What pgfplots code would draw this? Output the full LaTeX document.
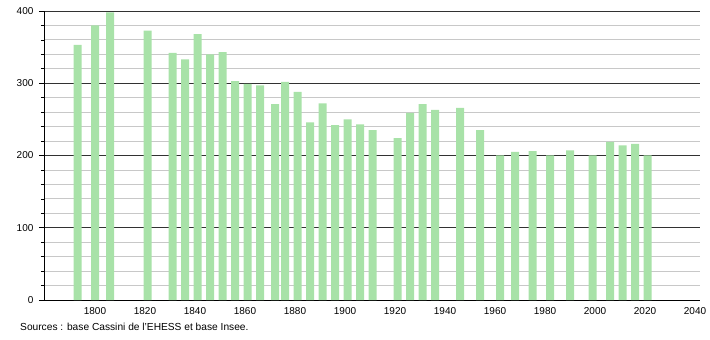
\documentclass[border=0pt]{standalone}
\usepackage{fontspec}
\setmainfont{Liberation Sans}
\usepackage{pgfplots}
\pgfplotsset{compat=1.18}
\definecolor{barg}{RGB}{168,226,168}
\definecolor{majg}{RGB}{50,50,50}
\definecolor{ming}{RGB}{200,200,200}
\begin{document}
\fontsize{10.2bp}{12bp}\selectfont
\begin{tikzpicture}
\useasboundingbox (-44bp,-40bp) rectangle (666bp,300bp);
\begin{axis}[
  at={(0,0)}, anchor=south west,
  scale only axis, width=656bp, height=289bp,
  xmin=1779.6, xmax=2042, ymin=0, ymax=400,
  axis lines=left, axis line style={-, black, line width=0.8pt},
  xtick={1800,1820,...,2040},
  ytick={0,100,...,400},
  minor ytick={20,40,60,80,120,140,160,180,220,240,260,280,320,340,360,380},
  major x tick style={draw=none},
  ytick align=outside,
  major tick length=5bp, minor tick length=3bp,
  tick style={black, line width=0.6pt},
  ymajorgrids, yminorgrids,
  major grid style={majg, line width=0.8pt},
  minor grid style={ming, line width=0.8pt},
  /pgf/number format/1000 sep={},
  /pgf/number format/assume math mode=true,
  tick label style={font=\fontsize{10bp}{12bp}\selectfont},
  xticklabel style={yshift=1bp},
  yticklabel style={xshift=-2bp},
  ybar, bar width=8bp,
  clip=false,
]
\addplot[fill=barg, draw=none] coordinates {
(1793,353) (1800,380) (1806,398) (1821,373) (1831,342) (1836,333)
(1841,368) (1846,340) (1851,343) (1856,303) (1861,299) (1866,297)
(1872,271) (1876,302) (1881,288) (1886,246) (1891,272) (1896,242)
(1901,250) (1906,243) (1911,235) (1921,224) (1926,259) (1931,271)
(1936,263) (1946,266) (1954,235) (1962,200) (1968,205) (1975,206)
(1982,200) (1990,207) (1999,200) (2006,219) (2011,214) (2016,216)
(2021,200)
};
\end{axis}
\node[anchor=west, inner sep=0pt] at (-24bp,-27bp) {Sources : base Cassini de l'EHESS et base Insee.};
\end{tikzpicture}
\end{document}
